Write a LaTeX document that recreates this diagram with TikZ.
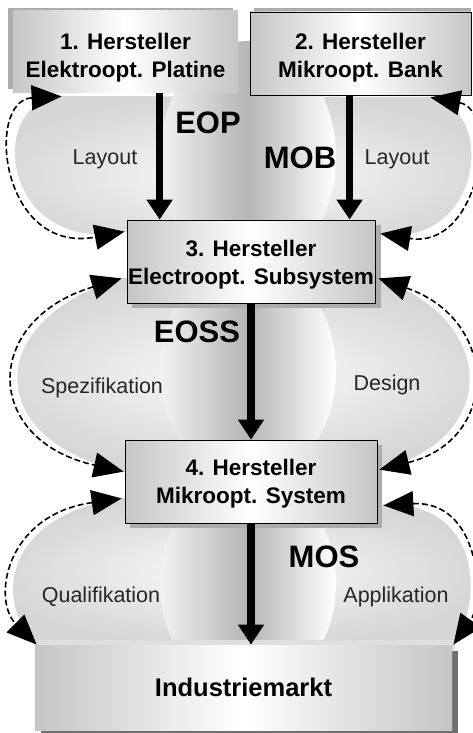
\documentclass[tikz,border=0pt]{standalone}
\usepackage{fontspec}
\setmainfont{Liberation Sans}
\usetikzlibrary{arrows.meta,calc}
\begin{document}
\begin{tikzpicture}[x=1pt,y=-1pt,
  box/.style={draw=black, line width=0.8pt, left color=gray!45, right color=gray!45, middle color=white, inner sep=0pt, align=center, font=\fontsize{22.5}{28}\selectfont\bfseries},
  loopline/.style={line width=1.6pt, dash pattern=on 6pt off 3pt, {Triangle[length=30pt,width=25pt]}-{Triangle[length=30pt,width=25pt]}},
  flow/.style={line width=7.5pt, -{Triangle[length=20pt,width=25pt]}},
  big/.style={font=\fontsize{31}{31}\selectfont\bfseries, inner sep=0pt, anchor=base},
  small/.style={font=\fontsize{21.5}{22}\selectfont, inner sep=0pt, anchor=base, text=black!85},
  stage/.style={inner color=gray!3, outer color=gray!32},
  column/.style={left color=gray!10, right color=white, middle color=gray!58},
  shadowfill/.style={fill=gray!65}
]
\useasboundingbox (0,0) rectangle (473,733);
\fill[white] (0,0) rectangle (473,733);

% stage backgrounds
\shade[stage] (62,96) .. controls (-15,100) and (0,255) .. (125,232) -- (380,234) .. controls (480,250) and (500,110) .. (430,97) -- cycle;
\shade[stage] (122,278) .. controls (-18,320) and (-18,440) .. (124,472) -- (379,470) .. controls (500,440) and (500,320) .. (378,278) -- cycle;
\shade[stage] (122,498) .. controls (5,515) and (-8,600) .. (37,645) -- (453,645) .. controls (485,600) and (480,500) .. (383,505) -- cycle;

% middle columns
\begin{scope}
\clip (150,0) rectangle (350,220);
\shade[column] (248,157) ellipse (88 and 116);
\end{scope}
\begin{scope}
\clip (150,303) rectangle (350,440);
\shade[column] (248,371) ellipse (88 and 112);
\end{scope}
\begin{scope}
\clip (150,523) rectangle (350,645);
\shade[column] (248,584) ellipse (88 and 110);
\end{scope}

% shadows
\fill[shadowfill] (8,8) rectangle (233,89);
\fill[shadowfill] (254,8) rectangle (471,91);
\fill[shadowfill] (132,225) rectangle (381,308);
\fill[shadowfill] (130,445) rectangle (382,528);
\fill[gray!60!black!80] (41,651) rectangle (458,733);
\fill[gray!25] (38,640) rectangle (455,650);

% boxes
\node[box, draw=none, minimum width=225, minimum height=82] (b1) at (125.5,52) {\rule{0pt}{30pt}1. Hersteller\\Elektroopt. Platine\rule[-6pt]{0pt}{6pt}};
\node[box, minimum width=221, minimum height=83] (b2) at (360.5,53.5) {\rule{0pt}{27pt}2. Hersteller\\Mikroopt. Bank\rule[-6pt]{0pt}{6pt}};
\node[box, minimum width=248, minimum height=83] (b3) at (251,261.5) {\rule{0pt}{23pt}3. Hersteller\\Electroopt. Subsystem\rule[-6pt]{0pt}{6pt}};
\node[box, minimum width=252, minimum height=83] (b4) at (251,481.5) {\rule{0pt}{21pt}4. Hersteller\\Mikroopt. System\rule[-6pt]{0pt}{6pt}};
\node[box, draw=none, minimum width=417, minimum height=85, font=\fontsize{25.5}{28}\selectfont\bfseries] (b5) at (243.5,687.5) {Industriemarkt};

% dashed loops
\draw[loopline] ([shift={(49,3)}]b1.south west) .. controls (-15,100) and (0,255) .. ([shift={(-2,12)}]b3.north west);
\draw[loopline] ([shift={(-41,2)}]b2.south east) .. controls (500,110) and (480,250) .. ([shift={(5,14)}]b3.north east);
\draw[loopline] ([shift={(-5,-25)}]b3.south west) .. controls (-18,320) and (-18,440) .. ([shift={(-1,32)}]b4.north west);
\draw[loopline] ([shift={(3,-25)}]b3.south east) .. controls (500,320) and (500,440) .. ([shift={(2,30)}]b4.north east);
\draw[loopline] ([shift={(-3,-25)}]b4.south west) .. controls (5,515) and (-8,600) .. ([shift={(2,0)}]b5.north west);
\draw[loopline] ([shift={(6,-18)}]b4.south east) .. controls (480,500) and (485,600) .. ([shift={(1,0)}]b5.north east);

% flows
\draw[flow] ([shift={(147,0)}]b1.south west) -- ([shift={(33,0)}]b3.north west);
\draw[flow] ([shift={(100,0)}]b2.south west) -- ([shift={(223,0)}]b3.north west);
\draw[flow] (b3.south) -- (b4.north);
\draw[flow] (b4.south) -- (b4.south |- b5.north);

% labels
\node[big] (eop) at (208,133) {EOP};
\node[big] (mob) at (300,168) {MOB};
\node[big] (eoss) at (197,342) {EOSS};
\node[big] (mos) at (324,567) {MOS};
\node[small] (l1) at (105,164) {Layout};
\node[small] (l2) at (397,164) {Layout};
\node[small] (l3) at (102,393) {Spezifikation};
\node[small] (l4) at (387,390) {Design};
\node[small] (l5) at (101,602) {Qualifikation};
\node[small] (l6) at (396,602) {Applikation};
\end{tikzpicture}
\end{document}
